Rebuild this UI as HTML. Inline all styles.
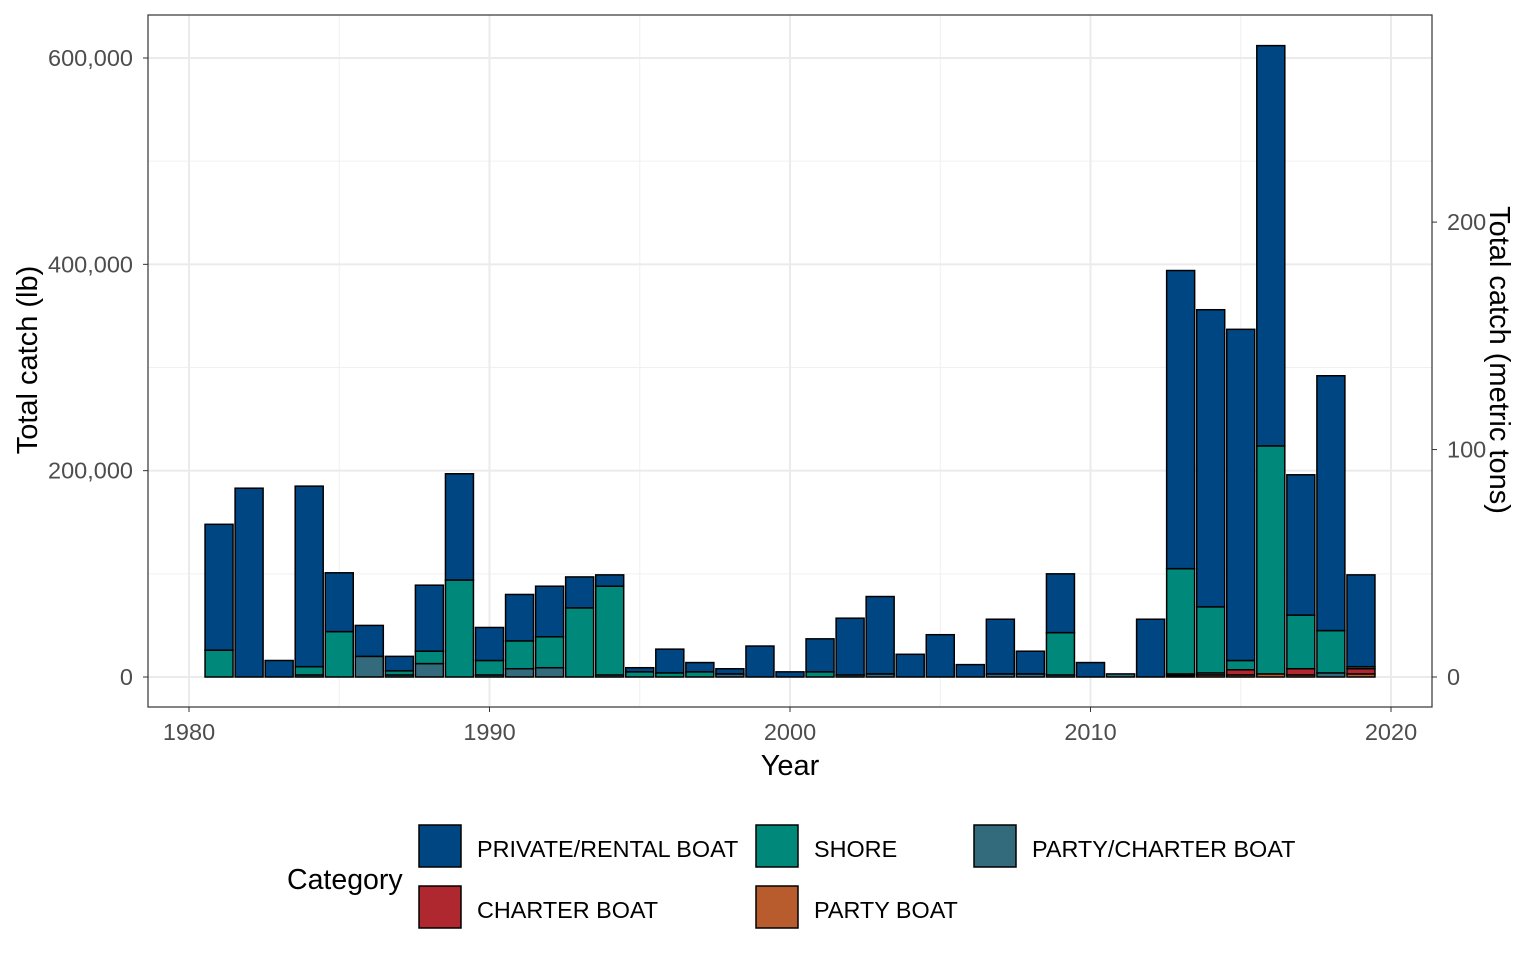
<!DOCTYPE html>
<html><head><meta charset="utf-8"><style>
body{margin:0;background:#fff;font-family:"Liberation Sans",Arial,sans-serif}
svg{display:block}
</style></head><body>
<svg id="chart" width="1536" height="960" xmlns="http://www.w3.org/2000/svg"></svg>
<script>
const years=[1981,1982,1983,1984,1985,1986,1987,1988,1989,1990,1991,1992,1993,1994,1995,1996,1997,1998,1999,2000,2001,2002,2003,2004,2005,2006,2007,2008,2009,2010,2011,2012,2013,2014,2015,2016,2017,2018,2019];
const partyBoat=[0,0,0,0,0,0,0,0,0,0,0,0,0,0,0,0,0,0,0,0,0,0,0,0,0,0,0,0,0,0,0,0,1500,2000,2000,3000,2000,0,3000];
const charterBoat=[0,0,0,0,0,0,0,0,0,0,0,0,0,0,0,0,0,0,0,0,0,0,0,0,0,0,0,0,0,0,0,0,1500,0,5000,0,6000,0,5000];
const partyCharter=[0,0,0,2000,0,20000,2000,13000,0,2000,8000,9000,0,2000,0,0,0,3000,0,0,0,2000,3000,0,0,0,3000,3000,2000,0,3000,0,0,2000,0,0,0,4000,2000];
const shore=[26000,0,0,8000,44000,0,4000,12000,94000,14000,27000,30000,67000,86000,5000,4000,5000,0,0,0,5000,0,0,0,0,0,0,0,41000,0,0,0,102000,64000,9000,221000,52000,41000,0];
const privateBoat=[122000,183000,16000,175000,57000,30000,14000,64000,103000,32000,45000,49000,30000,11000,4000,23000,9000,5000,30000,5000,32000,55000,75000,22000,41000,12000,53000,22000,57000,14000,0,56000,289000,288000,321000,388000,136000,247000,89000];
const yTicks=[0,200000,400000,600000];
const y2Ticks=[0,100,200];
const xTicks=[1980,1990,2000,2010,2020];
const NS="http://www.w3.org/2000/svg";
const svg=document.getElementById('chart');
const L=148,R=1432,T=15,B=707;
const xs=y=>189+(y-1980)*(1391-189)/40;
const ys=v=>677-v*(677-58)/600000;
const ys2=t=>ys(t*2204.62);
function mk(tag,attrs,parent){const e=document.createElementNS(NS,tag);for(const k in attrs)e.setAttribute(k,attrs[k]);(parent||svg).appendChild(e);return e;}
mk('rect',{x:L,y:T,width:R-L,height:B-T,fill:'#fff'});
const minorX=[1985,1995,2005,2015];
minorX.forEach(v=>mk('line',{x1:xs(v),x2:xs(v),y1:T,y2:B,stroke:'#f0f0f0','stroke-width':1}));
[100000,300000,500000].forEach(v=>mk('line',{x1:L,x2:R,y1:ys(v),y2:ys(v),stroke:'#f0f0f0','stroke-width':1}));
xTicks.forEach(v=>mk('line',{x1:xs(v),x2:xs(v),y1:T,y2:B,stroke:'#ebebeb','stroke-width':2}));
yTicks.forEach(v=>mk('line',{x1:L,x2:R,y1:ys(v),y2:ys(v),stroke:'#ebebeb','stroke-width':2}));
const series=[[partyBoat,'#b85c2e','party-boat'],[charterBoat,'#b0282f','charter-boat'],[partyCharter,'#336b7c','party-charter-boat'],[shore,'#00897b','shore'],[privateBoat,'#004683','private-rental-boat']];
const bw=28;
years.forEach((yr,i)=>{let base=0;series.forEach(([arr,col,nm])=>{const v=arr[i];if(v<=0)return;const r=mk('rect',{x:xs(yr)-bw/2,y:ys(base+v),width:bw,height:ys(base)-ys(base+v),fill:col,stroke:'#000','stroke-width':1.5});


base+=v;});});
mk('rect',{x:L,y:T,width:R-L,height:B-T,fill:'none',stroke:'#333','stroke-width':1.2});
const g=mk('g',{'font-size':23.5,fill:'#4d4d4d'});
yTicks.forEach(v=>{mk('line',{x1:L-5,x2:L,y1:ys(v),y2:ys(v),stroke:'#333'});const t=mk('text',{x:L-15,y:ys(v)+8,'text-anchor':'end'},g);t.textContent=v.toLocaleString('en-US');
});
y2Ticks.forEach(v=>{mk('line',{x1:R,x2:R+5,y1:ys2(v),y2:ys2(v),stroke:'#333'});const t=mk('text',{x:R+15,y:ys2(v)+8},g);t.textContent=v;
});
xTicks.forEach(v=>{mk('line',{x1:xs(v),x2:xs(v),y1:B,y2:B+5,stroke:'#333'});const t=mk('text',{x:xs(v),y:B+33,'text-anchor':'middle'},g);t.textContent=v;
});
let t=mk('text',{x:790,y:775,'text-anchor':'middle','font-size':29,fill:'#000'});t.textContent='Year';
t=mk('text',{x:0,y:0,'text-anchor':'middle','font-size':29,fill:'#000',transform:'translate(37,360) rotate(-90)'});t.textContent='Total catch (lb)';
t=mk('text',{x:0,y:0,'text-anchor':'middle','font-size':29,fill:'#000',transform:'translate(1490,360) rotate(90)'});t.textContent='Total catch (metric tons)';
t=mk('text',{x:287,y:889,'font-size':28.5,fill:'#000'});t.textContent='Category';
const leg=[[419,825,'#004683','PRIVATE/RENTAL BOAT'],[756,825,'#00897b','SHORE'],[974,825,'#336b7c','PARTY/CHARTER BOAT'],[419,886,'#b0282f','CHARTER BOAT'],[756,886,'#b85c2e','PARTY BOAT']];
leg.forEach(([x,y,c,l])=>{const gg=mk('g',{});
mk('rect',{x:x,y:y,width:42,height:42,fill:c,stroke:'#000','stroke-width':1.5},gg);const tt=mk('text',{x:x+58,y:y+32,'font-size':23.4,fill:'#000'},gg);tt.textContent=l;});
</script>
</body></html>
